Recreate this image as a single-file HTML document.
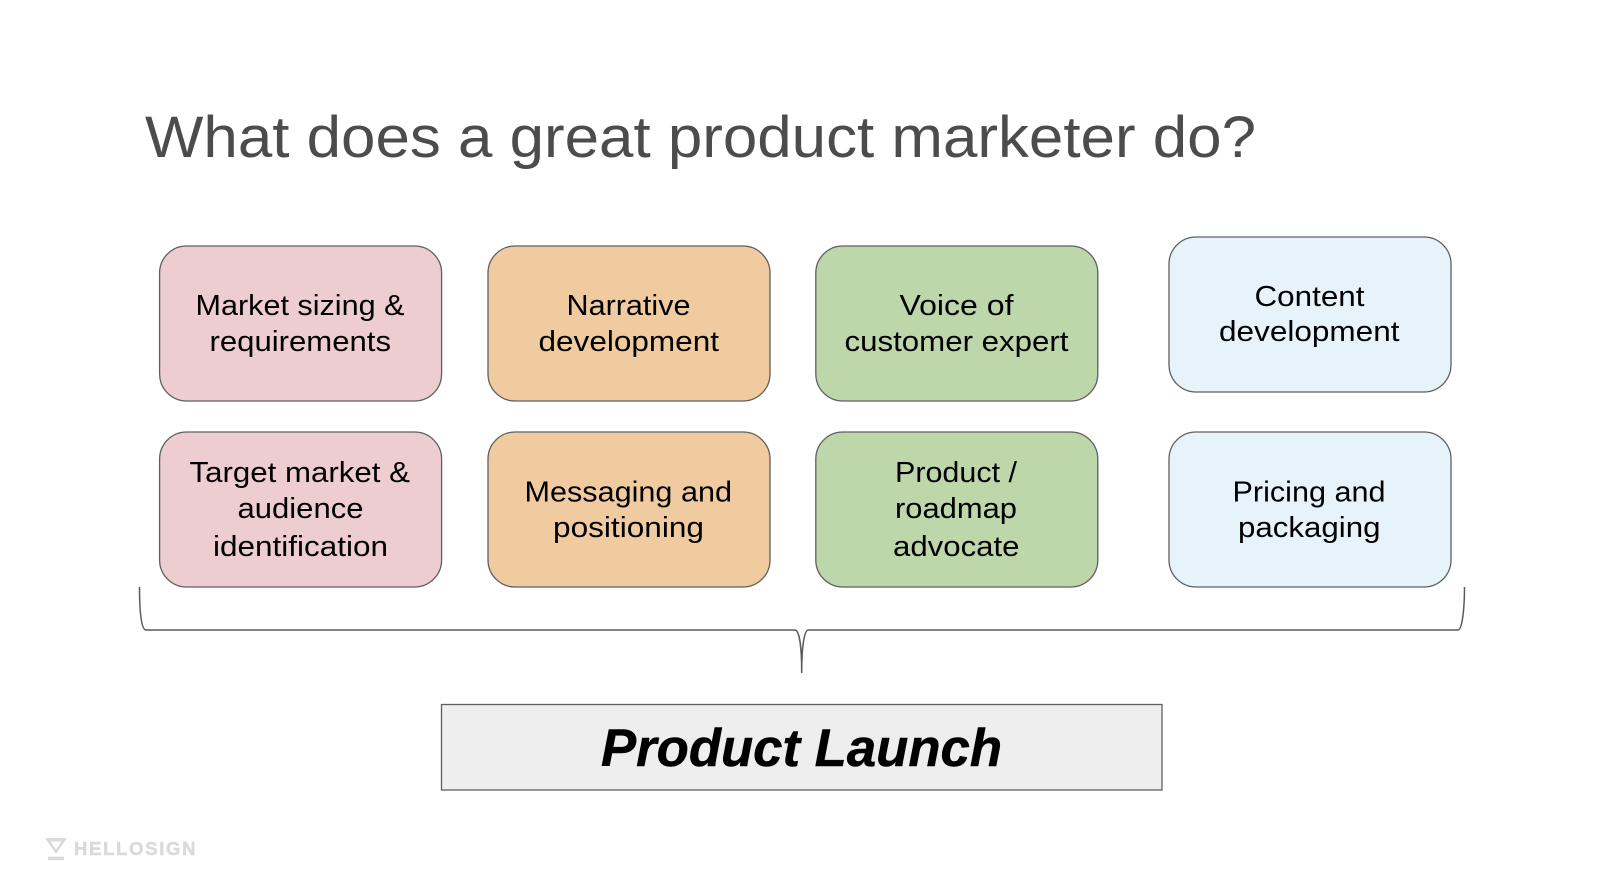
<!DOCTYPE html>
<html>
<head>
<meta charset="utf-8">
<style>
html,body{margin:0;padding:0;background:#fff;width:1600px;height:896px;overflow:hidden}
svg{display:block}
text{font-family:"Liberation Sans",sans-serif}
.b{font-size:29px;fill:#000}
rect.n{stroke:#5f5f5f;stroke-width:1.3}
</style>
</head>
<body>
<svg width="1600" height="896" viewBox="0 0 1600 896" xmlns="http://www.w3.org/2000/svg">
<rect width="1600" height="896" fill="#fff"/>
<text x="145" y="157" font-size="58" fill="#4c4c4c" textLength="1111" lengthAdjust="spacingAndGlyphs">What does a great product marketer do?</text>

<rect class="n" x="159.6" y="246" width="282" height="155" rx="27" fill="#edcdd0"/>
<rect class="n" x="488" y="246" width="282" height="155" rx="27" fill="#f1cba0"/>
<rect class="n" x="815.8" y="246" width="282" height="155" rx="27" fill="#bdd6aa"/>
<rect class="n" x="1169" y="237" width="282" height="155" rx="27" fill="#e6f3fa"/>
<rect class="n" x="159.6" y="432" width="282" height="155" rx="27" fill="#edcdd0"/>
<rect class="n" x="488" y="432" width="282" height="155" rx="27" fill="#f1cba0"/>
<rect class="n" x="815.8" y="432" width="282" height="155" rx="27" fill="#bdd6aa"/>
<rect class="n" x="1169" y="432" width="282" height="155" rx="27" fill="#e6f3fa"/>

<text class="b" x="195.5" y="315" textLength="209" lengthAdjust="spacingAndGlyphs">Market sizing &amp;</text>
<text class="b" x="209.5" y="351" textLength="181.5" lengthAdjust="spacingAndGlyphs">requirements</text>
<text class="b" x="566.5" y="315" textLength="124" lengthAdjust="spacingAndGlyphs">Narrative</text>
<text class="b" x="538.5" y="351" textLength="180.5" lengthAdjust="spacingAndGlyphs">development</text>
<text class="b" x="899.5" y="315" textLength="114" lengthAdjust="spacingAndGlyphs">Voice of</text>
<text class="b" x="844.5" y="351" textLength="224" lengthAdjust="spacingAndGlyphs">customer expert</text>
<text class="b" x="1254.5" y="306" textLength="110" lengthAdjust="spacingAndGlyphs">Content</text>
<text class="b" x="1219" y="341" textLength="180.5" lengthAdjust="spacingAndGlyphs">development</text>

<text class="b" x="189.5" y="482" textLength="220.5" lengthAdjust="spacingAndGlyphs">Target market &amp;</text>
<text class="b" x="237.5" y="518" textLength="126" lengthAdjust="spacingAndGlyphs">audience</text>
<text class="b" x="213" y="556" textLength="175" lengthAdjust="spacingAndGlyphs">identification</text>
<text class="b" x="524.5" y="501.5" textLength="207.5" lengthAdjust="spacingAndGlyphs">Messaging and</text>
<text class="b" x="553" y="537" textLength="151" lengthAdjust="spacingAndGlyphs">positioning</text>
<text class="b" x="895" y="482" textLength="122" lengthAdjust="spacingAndGlyphs">Product /</text>
<text class="b" x="895" y="518" textLength="122" lengthAdjust="spacingAndGlyphs">roadmap</text>
<text class="b" x="893" y="556" textLength="126.5" lengthAdjust="spacingAndGlyphs">advocate</text>
<text class="b" x="1232.5" y="501.5" textLength="153" lengthAdjust="spacingAndGlyphs">Pricing and</text>
<text class="b" x="1238" y="537" textLength="142.5" lengthAdjust="spacingAndGlyphs">packaging</text>

<path d="M139.5 587 C139.5 610 141 630 146 630 H795 C799 630 801.7 645 801.7 673 C801.7 645 804.5 630 808.3 630 H1458 C1462 630 1464.5 610 1464.5 587" fill="none" stroke="#5a5a5a" stroke-width="1.5"/>

<rect x="441.5" y="704.5" width="720.5" height="85.5" fill="#eeeeee" stroke="#5f5f5f" stroke-width="1.3"/>
<text x="601" y="766" font-size="53" font-weight="bold" font-style="italic" fill="#000" stroke="#000" stroke-width="0.5" textLength="401" lengthAdjust="spacingAndGlyphs">Product Launch</text>

<path d="M45 838 H67 L56 854 Z M50.5 841.5 L56 849.5 L61.5 841.5 Z" fill="#dadada" fill-rule="evenodd"/>
<rect x="48" y="856.7" width="16" height="3.5" fill="#dadada"/>
<text x="74" y="855" font-size="18.5" font-weight="bold" fill="#dadada" stroke="#dadada" stroke-width="0.5" textLength="121.5" lengthAdjust="spacing">HELLOSIGN</text>
</svg>
</body>
</html>
